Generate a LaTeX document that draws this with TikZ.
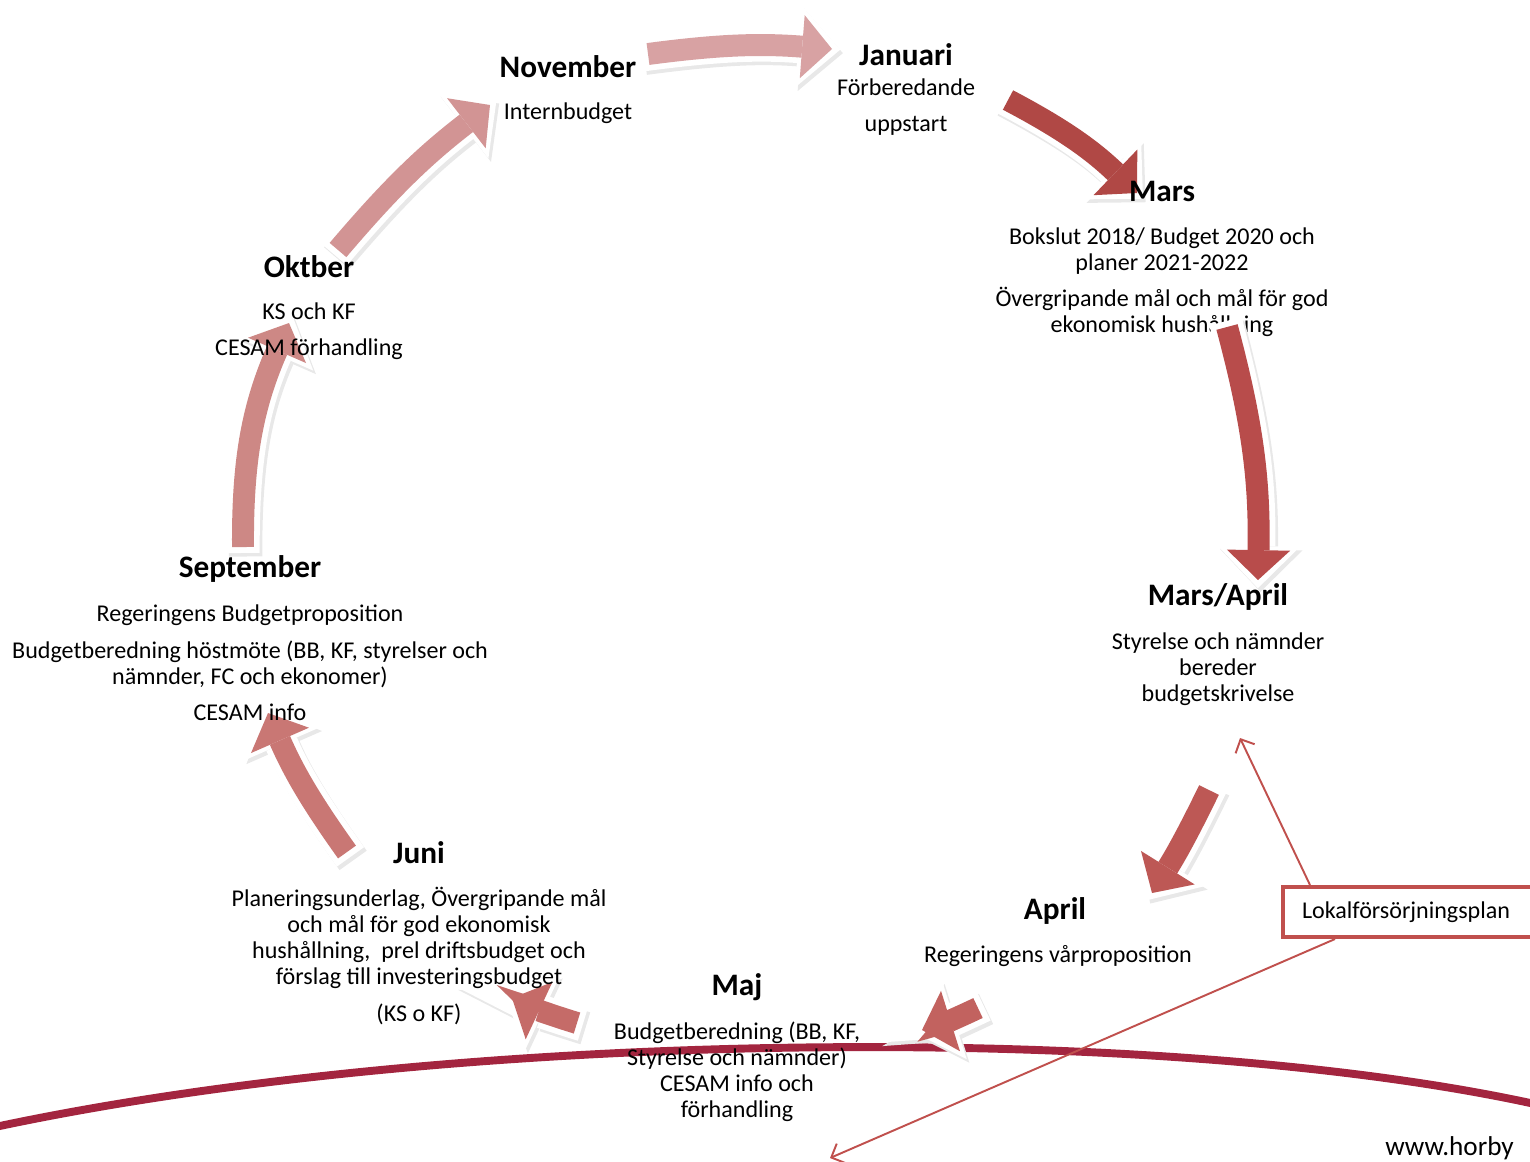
\documentclass[tikz,border=0pt]{standalone}
\usepackage{fontspec}
\setmainfont{Carlito}
\usetikzlibrary{arrows.meta}
\definecolor{boge}{HTML}{A3253F}
\definecolor{lokalrod}{HTML}{C0504D}
\definecolor{nj}{HTML}{D8A2A3}
\definecolor{jm}{HTML}{B04845}
\definecolor{mm}{HTML}{B84C4B}
\definecolor{ma}{HTML}{BD5855}
\definecolor{am}{HTML}{C2625F}
\definecolor{mj}{HTML}{C56B68}
\definecolor{js}{HTML}{C97774}
\definecolor{so}{HTML}{CD8885}
\definecolor{on}{HTML}{D29494}

\begin{document}
\begin{tikzpicture}[x=0.02cm,y=-0.02cm]
\tikzstyle{every node}=[font=\fontsize{13.7}{14.8}\selectfont, align=center, inner sep=0pt]
\tikzstyle{manad}=[font=\fontsize{17.8}{19}\selectfont\bfseries]
\tikzset{pil/.style={draw=#1, line width=12.5pt, -{Triangle[width=36pt,length=17pt,line width=0pt]},
  preaction={draw=black!9, line width=19pt, shorten >=-4.7pt, shorten <=-3.4pt,
    -{Triangle[width=47pt,length=24pt,line width=0pt]}, transform canvas={shift={(1.5pt,-2pt)}}},
  preaction={draw=white, line width=19pt, shorten >=-4.7pt, shorten <=-3.4pt,
    -{Triangle[width=47pt,length=24pt,line width=0pt]}}},
  lokalpil/.style={draw=lokalrod, line width=1.1pt, -{Straight Barb[length=6pt,width=12pt]}}}
\useasboundingbox (0,0) rectangle (1530,1161);

\draw[boge, line width=4.5pt] (-5,1127) .. controls (450,1030) and (1150,1020) .. (1535,1104); % bågen

% pilarnas ändar
\coordinate (nj1) at (648,54);   \coordinate (nj2) at (832,49);
\coordinate (jm1) at (1008,100); \coordinate (jm2) at (1137,193);
\coordinate (mm1) at (1227,327); \coordinate (mm2) at (1258,580);
\coordinate (ma1) at (1209,790); \coordinate (ma2) at (1152,893);
\coordinate (am1) at (978,1008); \coordinate (am2) at (922,1030);
\coordinate (mj1) at (577,1023); \coordinate (mj2) at (512,998);
\coordinate (js1) at (347,852);  \coordinate (js2) at (268,713);
\coordinate (so1) at (243,547);  \coordinate (so2) at (289,323);
\coordinate (on1) at (338,250);  \coordinate (on2) at (490,105);

\draw[pil=nj] (nj1) to[bend left=6] (nj2);
\draw[pil=jm] (jm1) to[bend left=8] (jm2);
\draw[pil=ma] (ma1) to[bend left=3] (ma2);
\draw[pil=am] (am1) to[bend left=4] (am2);
\draw[pil=mj] (mj1) to[bend left=4] (mj2);
\draw[pil=js] (js1) to[bend left=6] (js2);
\draw[pil=so] (so1) to[bend left=12] (so2);
\draw[pil=on] (on1) to[bend left=6] (on2);

% månader
\node[manad] (nov) at (568,67) {November};
\node (novt) at (568,113) {Internbudget};
\node[manad] (jan) at (906,55) {Januari};
\node (jant) at (906,107) {Förberedande\\[6pt]uppstart};
\node[manad] (mars) at (1162,191) {Mars};
\node (marst) at (1162,282) {Bokslut 2018/ Budget 2020 och\\planer 2021-2022\\[6pt]Övergripande mål och mål för god\\ekonomisk hushållning};
\node[manad] (mapr) at (1218,597) {Mars/April};
\node (maprt) at (1218,669) {Styrelse och nämnder\\bereder\\budgetskrivelse};
\node[manad] (apr) at (1055,911) {April};
\node (aprt) at (1058,956) {Regeringens vårproposition};
\node[manad] (maj) at (737,987) {Maj};
\node (majt) at (737,1072) {Budgetberedning (BB, KF,\\Styrelse och nämnder)\\CESAM info och\\förhandling};
\node[manad] (jun) at (419,853) {Juni};
\node (junt) at (419,956) {Planeringsunderlag, Övergripande mål\\och mål för god ekonomisk\\hushållning,\ \ prel driftsbudget och\\förslag till investeringsbudget\\[6pt](KS o KF)};
\node[manad] (sep) at (250,569) {September};
\node (sept) at (250,663) {Regeringens Budgetproposition\\[6pt]Budgetberedning höstmöte (BB, KF, styrelser och\\nämnder, FC och ekonomer)\\[6pt]CESAM info};
\node[manad] (okt) at (309,267) {Oktber};
\node (oktt) at (309,331) {KS och KF\\[6pt]CESAM förhandling};

\draw[pil=mm] (mm1) to[bend left=8] (mm2);

% lokalförsörjning
\node[draw=lokalrod, line width=2.3pt, anchor=west, text width=5.0cm, align=left,
  inner xsep=0.38cm, minimum height=1.0cm] (lokal) at (1281,912) {Lokalförsörjningsplan};
\coordinate (lp1) at (1240,738);
\coordinate (lp2) at (830,1158);
\draw[lokalpil] ([xshift=0.58cm]lokal.north west) -- (lp1);
\draw[lokalpil] ([xshift=1.08cm]lokal.south west) -- (lp2);

\node[anchor=base west, font=\fontsize{15.5}{18}\selectfont] (www) at (1385,1155) {www.horby};
\end{tikzpicture}
\end{document}
